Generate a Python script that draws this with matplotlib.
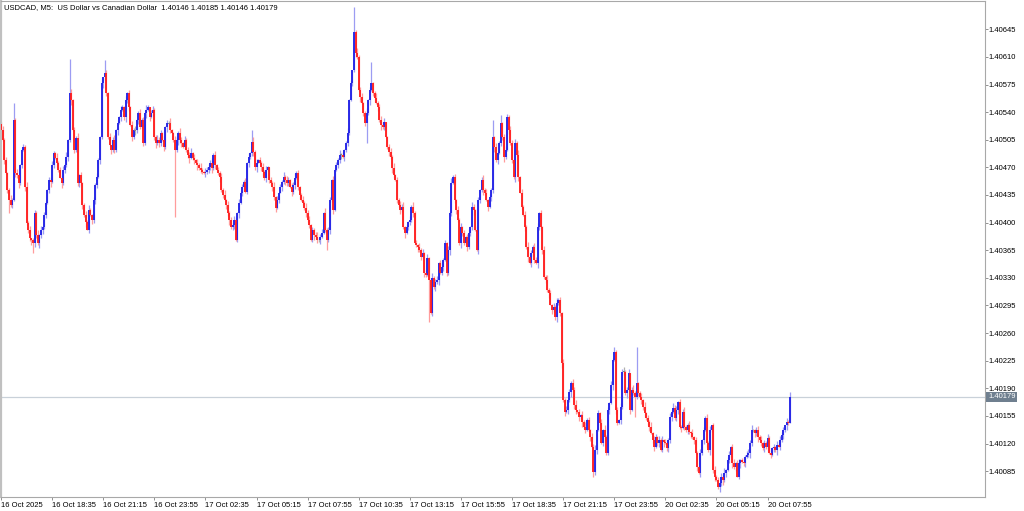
import matplotlib
matplotlib.use("Agg")
import matplotlib.pyplot as plt
import matplotlib.transforms as mtransforms
import numpy as np

# ---- data: closes in points above 1.40000 (1 point = 0.00001) ----
closes_a = [517, 505, 479, 463, 441, 429, 422, 429, 530, 463,
            460, 450, 473, 492, 496, 445, 399, 391, 380, 378,
            374, 412, 384, 374, 384, 391, 394, 410, 425, 441,
            454, 451, 473, 488, 482, 476, 467, 457, 450, 467,
            473, 483, 505, 564, 555, 517, 492, 507, 450, 460,
            450, 422, 410, 401, 391, 416, 410, 403, 429, 448,
            458, 479, 508, 577, 584, 590, 564, 508, 498, 492,
            505, 492, 517, 526, 534, 543, 546, 534, 555, 564,
            546, 524, 508, 517, 517, 530, 539, 521, 530, 501,
            539, 543, 546, 534, 539, 543, 508, 501, 505, 501,
            514, 505, 496, 521, 526, 526, 517, 514, 505, 492,
            505, 514, 505, 501, 496, 505, 492, 486, 482, 488,
            482, 479, 476, 473, 469]
closes_b = [467, 464, 463, 464, 467, 470, 476, 469, 486, 473,
            467, 463, 458, 441, 435, 429, 422, 412, 403, 394,
            397, 403, 378, 412, 425, 438, 445, 451, 439, 476,
            483, 488, 502, 489, 470, 476, 479, 476, 470, 464,
            457, 467, 470, 454, 450, 445, 432, 419, 429, 438,
            445, 451, 458, 454, 450, 454, 445, 439, 448, 457,
            463, 445, 435, 429, 425, 419, 412, 403, 397, 378,
            391, 384, 382, 378, 378, 382, 387, 412, 391, 378,
            391, 429, 454, 416, 467, 473, 479, 486, 486, 483,
            492, 501, 514, 555, 577, 593, 641, 615, 610, 568,
            559, 552, 539, 526, 539, 555, 568, 577, 564, 558,
            552, 546, 530, 524, 521, 527, 508, 496, 489, 483,
            469, 460, 454]
closes_c = [429, 422, 416, 420, 394, 387, 394, 401, 403, 420,
            412, 374, 372, 369, 365, 356, 361, 336, 334, 355,
            327, 285, 330, 318, 325, 327, 349, 336, 344, 353,
            374, 336, 365, 412, 450, 458, 429, 416, 403, 374,
            394, 387, 374, 382, 369, 387, 394, 420, 416, 391,
            365, 429, 441, 454, 441, 438, 429, 420, 432, 441,
            508, 496, 479, 488, 501, 526, 508, 483, 492, 534,
            517, 501, 479, 458, 501, 486, 458, 438, 420, 410,
            394, 369, 356, 349, 361, 369, 353, 349, 394, 412,
            394, 365, 331, 327, 315, 311, 296, 289, 293, 280,
            298, 302, 285, 222]
closes_d = [175, 160, 162, 175, 185, 197, 188, 169, 162, 160,
            154, 156, 147, 141, 137, 150, 137, 128, 116, 84,
            112, 137, 159, 146, 121, 137, 128]
closes_e = [108, 162, 171, 194, 226, 236, 162, 146, 150, 166,
            211, 211, 184, 188, 209, 162, 188, 184, 179, 197,
            184, 179, 175, 166, 159, 152, 147, 141, 133, 124,
            116, 128, 121, 124, 112, 124, 122, 121, 114, 124,
            154, 160, 165, 152, 162, 173, 141, 140, 160, 141,
            137, 143, 135, 133, 128, 124, 108, 90, 83, 108,
            124, 137, 152, 121, 112, 137, 143, 86, 78, 74,
            65, 70, 78, 74, 83, 86, 99, 106, 116, 95,
            90, 95, 78, 95, 99, 97, 95, 103, 106, 108,
            121, 137, 137, 133, 137, 128, 124, 121, 114, 121,
            116, 127, 108, 106, 114, 116, 112, 118, 116, 124,
            131, 137, 143, 147, 146, 179]
first_open = 525

# wick lengths (points) above body / below body, per bar
wick_up = ("3524136243 5213426351 2436152431 4253162435 2613524362 "
           "4135263142 5326134251 3624153261 4253613524 2631452364 "
           "3152436215 4263152436 2514362153 4362514253 6153426315 "
           "2436152463 5142635214 3625143625 4153624135 2645132462 "
           "3516243152 4362513624 1536245136 2451362453 6124536142 "
           "5362415263 4153624513 6245136241 5362415362 4135264153 "
           "2463514362 5136245136 4253614253 6142536142 5362415362 "
           "4253614253 6142536241 5362415263 4153624153 6245136241 "
           "3526143625 4153624135 2645132462 3516243152 4362513624 "
           "1536245136 2451362453 6124536142 5362415263 4153624513")
wick_dn = ("4251362415 3624152436 1542635241 3614253162 4253614235 "
           "2536142536 4152634215 2436152463 5142635214 3625143625 "
           "4153624135 2645132462 3516243152 4362513624 1536245136 "
           "2451362453 6124536142 5362415263 4153624513 3524136243 "
           "5213426351 2436152431 4253162435 2613524362 4135263142 "
           "5326134251 3624153261 4253613524 2631452364 3152436215 "
           "4263152436 2514362153 4362514253 6153426315 2436152463 "
           "3625143625 4153624135 2645132462 3516243152 4362513624 "
           "1536245136 2451362453 6124536142 5362415263 4153624513 "
           "2463514362 5136245136 4253614253 6142536142 5362415362")
# notable long wicks (bar index: price points)
high_marks = {8: 551, 43: 608, 65: 606, 157: 517, 221: 673, 232: 603,
              308: 530, 313: 536, 317: 538, 384: 242, 398: 242, 494: 185}
low_marks = {5: 412, 20: 361, 109: 407, 204: 365, 229: 501, 268: 274,
             397: 154, 450: 58}

x_labels = ["16 Oct 2025", "16 Oct 18:35", "16 Oct 21:15", "16 Oct 23:55",
            "17 Oct 02:35", "17 Oct 05:15", "17 Oct 07:55", "17 Oct 10:35",
            "17 Oct 13:15", "17 Oct 15:55", "17 Oct 18:35", "17 Oct 21:15",
            "17 Oct 23:55", "20 Oct 02:35", "20 Oct 05:15", "20 Oct 07:55"]
bars_per_label = 32
y_ticks = [1.40085, 1.40120, 1.40155, 1.40190, 1.40225, 1.40260, 1.40295,
           1.40330, 1.40365, 1.40400, 1.40435, 1.40470, 1.40505, 1.40540,
           1.40575, 1.40610, 1.40645]
last_price = 1.40179
title = "USDCAD, M5:  US Dollar vs Canadian Dollar  1.40146 1.40185 1.40146 1.40179"

# ---- build OHLC ----
base = 1.40000
pt = 0.00001
closes = np.array(closes_a + closes_b + closes_c + closes_d + closes_e, dtype=float)
n = len(closes)
opens = np.concatenate([[first_open], closes[:-1]])
opens[-1] = 146
wu = np.array([int(ch) for ch in wick_up.replace(" ", "")][:n], dtype=float)
wd = np.array([int(ch) for ch in wick_dn.replace(" ", "")][:n], dtype=float)
top = np.maximum(opens, closes)
bot = np.minimum(opens, closes)
highs = top + wu
lows = bot - wd
for k, v in high_marks.items():
    highs[k] = max(highs[k], v)
for k, v in low_marks.items():
    lows[k] = min(lows[k], v)
highs[-1] = 185
lows[-1] = 146

O = base + opens * pt
C = base + closes * pt
H = base + highs * pt
L = base + lows * pt
idx = np.arange(n)

# ---- figure ----
plt.rcParams['font.family'] = ['Liberation Sans', 'DejaVu Sans']
fig = plt.figure(figsize=(10.24, 5.11), dpi=100)
fig.patch.set_facecolor('white')
ax = fig.add_axes([1 / 1024, 14 / 511, 984 / 1024, 496 / 511])
ax.set_facecolor('white')

up = C > O
dn = C < O
eq = C == O
up_c, dn_c, eq_c = '#2323e6', '#ff2020', '#808080'
up_w, dn_w, eq_w = '#9c9cf2', '#ff9c9c', '#b0b0b0'

for mask, wc in ((up, up_w), (dn, dn_w), (eq, eq_w)):
    ax.vlines(idx[mask], L[mask], H[mask], colors=wc, linewidth=0.9, zorder=2)
for mask, bc in ((up, up_c), (dn, dn_c)):
    ax.vlines(idx[mask], np.minimum(O, C)[mask], np.maximum(O, C)[mask],
              colors=bc, linewidth=1.35, zorder=3)
ax.vlines(idx[eq], O[eq] - 0.4 * pt, O[eq] + 0.4 * pt, colors=eq_c, linewidth=1.35, zorder=3)

ax.axhline(last_price, color='#c9d1d9', linewidth=0.9, zorder=1)

ax.set_xlim(0.06, 616.2)
ax.set_ylim(1.400522, 1.406809)

for s in ax.spines.values():
    s.set_color('#a8a8a8')
    s.set_linewidth(0.8)
ax.spines['left'].set_linewidth(1.6)
ax.spines['left'].set_color('#c0c0c0')

ax.set_xticks(np.arange(len(x_labels)) * bars_per_label)
ax.set_xticklabels(x_labels)
ax.tick_params(axis='x', direction='out', length=2.5, width=0.6, color='#808080',
               labelsize=5.5, pad=1.0, labelcolor='black')
for lbl in ax.get_xticklabels():
    lbl.set_horizontalalignment('left')

ax.yaxis.tick_right()
ax.set_yticks(y_ticks)
ax.set_yticklabels([f"{v:.5f}" for v in y_ticks])
ax.tick_params(axis='y', direction='out', length=2.0, width=0.6, color='#808080',
               labelsize=5.5, pad=0.8, labelcolor='black')

trans = mtransforms.blended_transform_factory(ax.transAxes, ax.transData)
ax.text(1.0 + 3 / 984, last_price, f"{last_price:.5f}", transform=trans,
        ha='left', va='center', fontsize=5.5, color='white', zorder=5, clip_on=False,
        bbox=dict(boxstyle='square,pad=0.25', fc='#6f7f8f', ec='none'))

fig.text(4 / 1024, 1 - 8 / 511, title, ha='left', va='center', fontsize=5.5, color='black')

fig.savefig('out.png', dpi=100, facecolor='white')
